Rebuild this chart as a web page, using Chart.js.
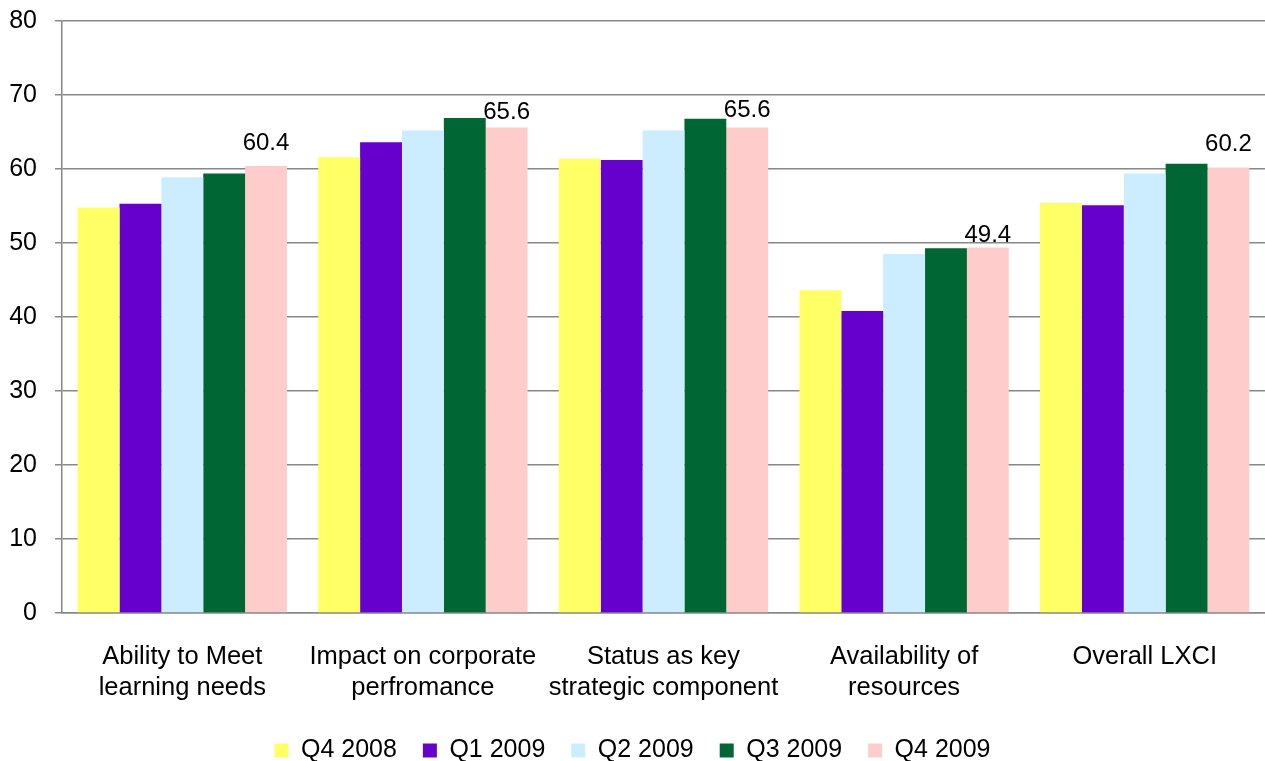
<!DOCTYPE html>
<html>
<head>
<meta charset="utf-8">
<script src="https://cdn.jsdelivr.net/npm/chart.js@4.4.1/dist/chart.umd.min.js"></script>
<style>
  html, body { margin: 0; padding: 0; background: #ffffff; }
  #wrap { width: 1265px; height: 761px; }
</style>
</head>
<body>
<div id="wrap"><canvas id="c" width="1265" height="761"></canvas></div>
<script>
// Learning index components, quarterly scores
const categories = [
  ["Ability to Meet", "learning needs"],
  ["Impact on corporate", "perfromance"],
  ["Status as key", "strategic component"],
  ["Availability of", "resources"],
  ["Overall LXCI"]
];
const seriesNames = ["Q4 2008", "Q1 2009", "Q2 2009", "Q3 2009", "Q4 2009"];
const q4_2008 = [54.8, 61.6, 61.4, 43.6, 55.4];
const q1_2009 = [55.3, 63.6, 61.2, 40.8, 55.1];
const q2_2009 = [58.9, 65.2, 65.2, 48.5, 59.4];
const q3_2009 = [59.4, 66.9, 66.8, 49.3, 60.7];
const q4_2009 = [60.4, 65.6, 65.6, 49.4, 60.2];
const yTicks = [0, 10, 20, 30, 40, 50, 60, 70, 80];

const seriesColors = ["#FFFF66", "#6600CC", "#CCECFF", "#006633", "#FFCCCC"];
const FONT = "'Liberation Sans', Arial, sans-serif";
const GRID = "#888888";

// Value labels above the latest quarter's bars
const valueLabels = {
  id: "valueLabels",
  afterDatasetsDraw(chart, args, opts) {
    const ctx = chart.ctx;
    const meta = chart.getDatasetMeta(opts.datasetIndex);
    const data = chart.data.datasets[opts.datasetIndex].data;
    ctx.save();
    ctx.font = "24px " + FONT;
    ctx.fillStyle = "#000000";
    ctx.textAlign = "center";
    ctx.textBaseline = "alphabetic";
    meta.data.forEach((bar, i) => {
      const lift = opts.lift[i] ?? 12;
      ctx.fillText(data[i].toFixed(1), bar.x, bar.y - lift);
    });
    ctx.restore();
  }
};

const seriesData = [q4_2008, q1_2009, q2_2009, q3_2009, q4_2009];

new Chart(document.getElementById("c"), {
  type: "bar",
  data: {
    labels: categories,
    datasets: seriesNames.map((name, k) => ({
      label: name,
      data: seriesData[k],
      backgroundColor: seriesColors[k],
      borderWidth: 0,
      categoryPercentage: 0.87,
      barPercentage: 1.0
    }))
  },
  options: {
    responsive: false,
    animation: false,
    devicePixelRatio: 1,
    layout: { padding: { left: 0, right: 0, top: 21, bottom: -12 } },
    scales: {
      x: {
        grid: { display: false, drawTicks: false },
        border: { display: true, color: GRID, width: 1.5 },
        ticks: {
          color: "#000000",
          font: { family: FONT, size: 25.5, lineHeight: 1.2 },
          padding: 29,
          maxRotation: 0,
          autoSkip: false
        },
        afterFit(scale) {
          scale.height = 99;
          scale.paddingLeft = 0;
          scale.paddingRight = 0;
        }
      },
      y: {
        min: 0,
        max: 80,
        afterBuildTicks(scale) { scale.ticks = yTicks.map(v => ({ value: v })); },
        grid: { color: GRID, lineWidth: 1.5, drawTicks: true, tickLength: 7, tickColor: GRID },
        border: { display: true, color: GRID, width: 1.5 },
        ticks: {
          color: "#000000",
          font: { family: FONT, size: 25 },
          padding: 18
        },
        afterFit(scale) {
          scale.width = 62;
          scale.paddingTop = 0;
          scale.paddingBottom = 0;
        }
      }
    },
    plugins: {
      legend: {
        position: "bottom",
        labels: {
          color: "#000000",
          font: { family: FONT, size: 25 },
          boxWidth: 14,
          boxHeight: 14,
          padding: 26
        }
      },
      tooltip: { enabled: false },
      valueLabels: { datasetIndex: 4, lift: [16, 9, 11, 5, 17] }
    }
  },
  plugins: [valueLabels]
});
</script>
</body>
</html>
